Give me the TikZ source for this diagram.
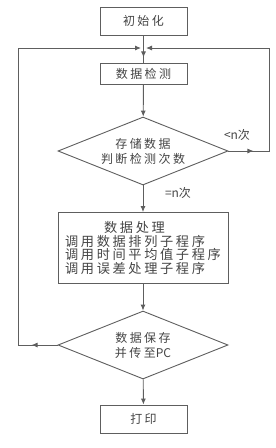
\documentclass[tikz,border=0pt]{standalone}
\usepackage{fontspec}
\setmainfont{Noto Sans CJK SC}[LetterSpace=20]
\newfontfamily\plainfont{Noto Sans CJK SC}
\usetikzlibrary{shapes.geometric}
\usetikzlibrary{arrows.meta}
\usetikzlibrary{decorations.markings}
\definecolor{lineColor}{HTML}{5E5E5E}
\definecolor{textColor}{HTML}{444444}

\begin{document}
\begin{tikzpicture}[
			x=1pt, y=-1pt,
			font=\fontsize{12}{15}\selectfont,
			box/.style={rectangle, draw=lineColor, line width=0.9pt, text=textColor, minimum width=87pt, minimum height=28pt, inner sep=2pt},
			test/.style={diamond, draw=lineColor, line width=0.9pt, text=textColor, aspect=2.5, minimum width=170pt, minimum height=68pt, inner sep=0pt, align=center},
			lbl/.style={text=textColor, inner sep=0pt, font=\plainfont\fontsize{12}{14}\selectfont},
			flow/.style={draw=lineColor, line width=0.9pt, -{Latex[length=6pt,width=5pt]}},
			midtip/.style={decoration={markings, mark=at position #1 with {\arrow{Latex[length=6pt,width=5pt]}}}, postaction={decorate}},
			]
			\useasboundingbox (0,0) rectangle (276,448);
			\node[box] (init) at (143.5,21) {初始化};
			\node[box, minimum height=21pt] (det) at (143.5,74) {数据检测};
			\node[test] (cnt) at (143,151) {存储数据\\判断检测次数};
			\node[box, minimum width=170pt, minimum height=71pt, align=left, font={\fontsize{13.2}{13.4}\selectfont\lineskiplimit=-20pt}] (proc) at (143,248) {\hspace*{39pt}数据处理\\调用数据排列子程序\\调用时间平均值子程序\\调用误差处理子程序};
			\node[test] (save) at (143,345) {数据保存\\并传至{\plainfont PC}};
			\node[box] (prt) at (143.5,419) {打印};
			\coordinate (jl) at (141,48);
			\coordinate (jr) at (146,48);
			\draw[draw=lineColor, line width=0.9pt, midtip=22pt] (init) -- (det);
			\draw[flow] (det) -- (cnt);
			\draw[flow] (cnt) -- (proc);
			\draw[flow] (proc) -- (save);
			\draw[flow] (save) -- (prt);
			\draw[flow, midtip=25pt] (cnt.east) -- (269,151) -- (269,48) -- (jr);
			\draw[flow, midtip=26pt] (save.west) -- (18,345) -- (18,48) -- (jl);
			\node[lbl] at (237,135) {<n次};
			\node[lbl] at (178,193) {=n次};
		\end{tikzpicture}
\end{document}
